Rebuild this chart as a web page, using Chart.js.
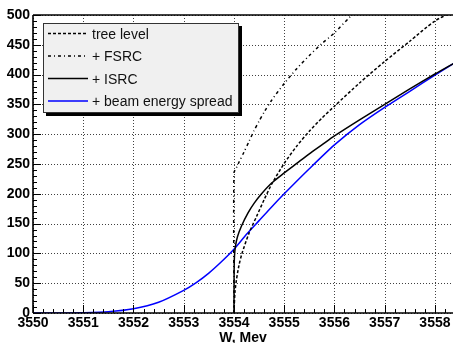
<!DOCTYPE html>
<html><head><meta charset="utf-8">
<script src="https://cdn.jsdelivr.net/npm/chart.js@4/dist/chart.umd.min.js"></script>
<style>html,body{margin:0;padding:0;background:#fff;overflow:hidden}#wrap{width:453px;height:343px;position:relative}canvas{display:block}</style>
</head><body><div id="wrap"><canvas id="c" width="453" height="343"></canvas></div>
<script>
// ---- data ----
const xTickValues = [3550, 3551, 3552, 3553, 3554, 3555, 3556, 3557, 3558];
const yTickValues = [0, 50, 100, 150, 200, 250, 300, 350, 400, 450, 500];
const xAxisTitle = 'W, Mev';
const legendLabels = ['tree level', '+ FSRC', '+ ISRC', '+ beam energy spread'];

const treeW     = [3554.0, 3554.02, 3554.05, 3554.1, 3554.16, 3554.3, 3554.45, 3554.6, 3554.75, 3555.0, 3555.25, 3555.5, 3555.75, 3556.0, 3556.5, 3557.0, 3557.5, 3558.0, 3558.4];
const treeSigma = [0, 35, 56, 80, 100, 134, 162, 190, 216, 251, 280, 305, 327, 347, 386, 422, 456, 490, 507];

const fsrcW     = [3554.0, 3554.0, 3554.05, 3554.1, 3554.2, 3554.3, 3554.4, 3554.5, 3554.6, 3554.75, 3555.0, 3555.25, 3555.5, 3555.75, 3556.0, 3556.3, 3556.5];
const fsrcSigma = [0, 235, 244, 253, 270, 288, 306, 322, 337, 357, 385, 410, 432, 452, 470, 496, 512];

const isrcW     = [3554.0, 3554.003, 3554.01, 3554.03, 3554.07, 3554.15, 3554.28, 3554.4, 3554.55, 3554.75, 3555.0, 3555.25, 3555.5, 3555.75, 3556.0, 3556.5, 3557.0, 3557.5, 3558.0, 3558.4];
const isrcSigma = [0, 70, 95, 112, 128, 146, 168, 184, 200, 218, 235, 251, 267, 282, 297, 324, 350, 376, 401, 420];

const spreadW     = [3550.0, 3550.5, 3551.0, 3551.5, 3552.0, 3552.5, 3553.0, 3553.25, 3553.5, 3553.75, 3554.0, 3554.25, 3554.5, 3554.75, 3555.0, 3555.5, 3556.0, 3556.5, 3557.0, 3557.5, 3558.0, 3558.4];
const spreadSigma = [0, 0.1, 0.5, 2, 7, 18, 38, 51, 67, 86, 107, 132, 155, 178, 200, 242, 282, 316, 345, 372, 399, 420];

// ---- build ----
function pts(xs, ys) { return xs.map((x, i) => ({x: x, y: ys[i]})); }

const styles = [
  {color: '#000', dash: [3, 2], width: 1.5},
  {color: '#000', dash: [3, 3, 1, 3], width: 1.5},
  {color: '#000', dash: [], width: 1.5},
  {color: '#0000ff', dash: [], width: 1.5}
];
const series = [pts(treeW, treeSigma), pts(fsrcW, fsrcSigma), pts(isrcW, isrcSigma), pts(spreadW, spreadSigma)];

const FONT = '"Liberation Sans", Arial, Helvetica, sans-serif';

const frameTicks = {
  id: 'frameTicks',
  beforeDatasetsDraw(chart) {
    const ctx = chart.ctx, a = chart.chartArea;
    const xs = chart.scales.x, ys = chart.scales.y;
    ctx.save();
    ctx.strokeStyle = 'rgba(0,0,0,0.75)';
    ctx.lineWidth = 1;
    ctx.setLineDash([1, 2]);
    ctx.beginPath();
    xTickValues.forEach(v => {
      const px = Math.round(xs.getPixelForValue(v)) + 0.5;
      ctx.moveTo(px, a.bottom); ctx.lineTo(px, a.top);
    });
    yTickValues.forEach(v => {
      const py = Math.round(ys.getPixelForValue(v)) + 0.5;
      ctx.moveTo(a.left, py); ctx.lineTo(a.right, py);
    });
    ctx.stroke();
    ctx.restore();
  },
  afterDatasetsDraw(chart) {
    const ctx = chart.ctx, a = chart.chartArea;
    const xs = chart.scales.x, ys = chart.scales.y;
    ctx.save();
    ctx.strokeStyle = '#000';
    ctx.lineWidth = 1;
    ctx.setLineDash([]);
    ctx.beginPath();
    for (let i = 0; i <= 42; i++) {
      const v = 3550 + i * 0.2;
      if (v > xs.max) break;
      const px = Math.round(xs.getPixelForValue(v)) + 0.5;
      const len = (i % 5 === 0) ? 8 : 4;
      ctx.moveTo(px, a.bottom);
      ctx.lineTo(px, a.bottom - len);
    }
    for (let i = 0; i <= 50; i++) {
      const v = i * 10;
      const py = Math.round(ys.getPixelForValue(v)) + 0.5;
      const len = (i % 5 === 0) ? 8 : 4;
      ctx.moveTo(a.left, py);
      ctx.lineTo(a.left + len, py);
    }
    ctx.stroke();
    ctx.lineWidth = 1.6;
    ctx.beginPath();
    ctx.moveTo(a.left, a.top); ctx.lineTo(a.right, a.top);
    ctx.moveTo(a.left, a.top); ctx.lineTo(a.left, a.bottom);
    ctx.moveTo(a.left, a.bottom); ctx.lineTo(a.right, a.bottom);
    ctx.stroke();
    ctx.restore();
  },
  afterDraw(chart) {
    const ctx = chart.ctx;
    const bx = 43, by = 23, bw = 196, bh = 90;
    ctx.save();
    ctx.fillStyle = '#000';
    ctx.fillRect(bx + 3, by + 3, bw, bh);
    ctx.fillStyle = '#f0f0f0';
    ctx.fillRect(bx, by, bw, bh);
    ctx.strokeStyle = '#333';
    ctx.lineWidth = 1;
    ctx.strokeRect(bx + 0.5, by + 0.5, bw - 1, bh - 1);
    const rows = [33.5, 56, 78.5, 101];
    ctx.font = '14px ' + FONT;
    ctx.textBaseline = 'alphabetic';
    ctx.textAlign = 'left';
    legendLabels.forEach((lab, i) => {
      const s = styles[i];
      ctx.strokeStyle = s.color;
      ctx.lineWidth = s.width;
      ctx.setLineDash(s.dash);
      ctx.beginPath();
      ctx.moveTo(48, rows[i]);
      ctx.lineTo(88, rows[i]);
      ctx.stroke();
      ctx.setLineDash([]);
      ctx.fillStyle = '#111';
      ctx.fillText(lab, 92, rows[i] + 5);
    });
    ctx.restore();
  }
};

new Chart(document.getElementById('c'), {
  type: 'line',
  data: {
    datasets: legendLabels.map((lab, i) => ({
      label: lab,
      data: series[i],
      borderColor: styles[i].color,
      borderDash: styles[i].dash,
      borderWidth: styles[i].width,
      pointRadius: 0,
      fill: false,
      tension: 0.25
    }))
  },
  options: {
    responsive: false,
    devicePixelRatio: 1,
    animation: false,
    parsing: false,
    layout: {padding: {top: 15, left: 0, right: 0, bottom: 0}},
    plugins: {legend: {display: false}, tooltip: {enabled: false}, title: {display: false}},
    scales: {
      x: {
        type: 'linear',
        min: 3550, max: 3558.36,
        afterBuildTicks(s) { s.ticks = xTickValues.map(v => ({value: v})); },
        afterFit(s) { s.height = 30; s.paddingLeft = 0; s.paddingRight = 0; },
        ticks: {
          autoSkip: false, maxRotation: 0, padding: 2,
          color: '#000',
          font: {family: FONT, size: 14, weight: 'bold'},
          callback: v => String(v)
        },
        grid: {display: false, drawTicks: false},
        border: {display: false},
        title: {display: true, text: xAxisTitle, color: '#000', align: 'center',
                font: {family: FONT, size: 14, weight: 'bold'}, padding: {top: 0, bottom: -4}}
      },
      y: {
        type: 'linear',
        min: 0, max: 500,
        afterBuildTicks(s) { s.ticks = yTickValues.map(v => ({value: v})); },
        afterFit(s) { s.width = 33; s.paddingTop = 0; s.paddingBottom = 0; },
        ticks: {
          autoSkip: false, padding: 3,
          color: '#000',
          font: {family: FONT, size: 14, weight: 'bold'},
          callback: v => String(v)
        },
        grid: {display: false, drawTicks: false},
        border: {display: false}
      }
    }
  },
  plugins: [frameTicks]
});
</script>
</body></html>
